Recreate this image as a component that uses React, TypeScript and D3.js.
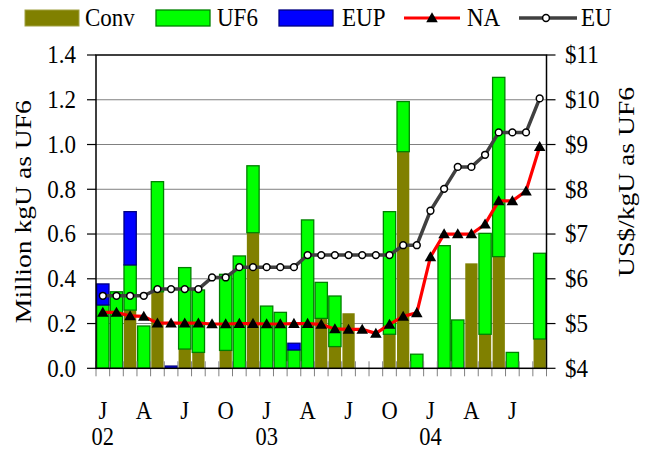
import React from "react";
import * as d3 from "d3";

// Months: Jan 2002 .. Sep 2004
const months = [
  "2002-01","2002-02","2002-03","2002-04","2002-05","2002-06","2002-07","2002-08","2002-09","2002-10","2002-11","2002-12",
  "2003-01","2003-02","2003-03","2003-04","2003-05","2003-06","2003-07","2003-08","2003-09","2003-10","2003-11","2003-12",
  "2004-01","2004-02","2004-03","2004-04","2004-05","2004-06","2004-07","2004-08","2004-09",
];

// Million kgU as UF6 (stacked)
const conv = [0,0,0.26,0,0.342,0,0.086,0.071,0,0.08,0,0.606,0,0,0,0,0.223,0.097,0.246,0,0,0.152,0.968,0,0,0,0,0.469,0.152,0.499,0,0,0.131];
const uf6 = [0.283,0.342,0.202,0.189,0.492,0,0.364,0.279,0,0.34,0.502,0.299,0.278,0.25,0.082,0.663,0.161,0.226,0,0,0,0.548,0.224,0.063,0,0.548,0.216,0,0.451,0.801,0.071,0,0.383];
const eup = [0.094,0,0.238,0,0,0.01,0,0,0,0,0,0,0,0,0.03,0,0,0,0,0,0,0,0,0,0,0,0,0,0,0,0,0,0];

// US$/kgU as UF6
const naPrice = [5.25,5.25,5.17,5.16,5.01,5.01,5.01,5.01,4.99,4.99,5.0,5.0,4.99,4.99,5.0,5.0,4.98,4.88,4.87,4.87,4.78,4.98,5.16,5.24,6.49,7.0,7.0,7.0,7.22,7.74,7.74,7.96,8.95];
const euPrice = [5.62,5.62,5.62,5.62,5.77,5.77,5.77,5.77,6.03,6.03,6.26,6.26,6.26,6.26,6.26,6.53,6.53,6.53,6.53,6.53,6.53,6.53,6.75,6.75,7.52,8.01,8.5,8.5,8.77,9.27,9.27,9.27,10.03];

const monthTickMonths = ["2002-01","2002-04","2002-07","2002-10","2003-01","2003-04","2003-07","2003-10","2004-01","2004-04","2004-07"];
const monthTickLabels = ["J","A","J","O","J","A","J","O","J","A","J"];
const yearTickMonths = ["2002-01","2003-01","2004-01"];
const yearTickLabels = ["02","03","04"];

const leftTicks = [0,0.2,0.4,0.6,0.8,1.0,1.2,1.4];
const rightTicks = [4,5,6,7,8,9,10,11];

const seriesKeys = ["conv","uf6","eup"];
const seriesColors: Record<string,string> = { conv: "#808000", uf6: "#00FF00", eup: "#0000FF" };
const seriesStroke: Record<string,string> = { conv: "#808000", uf6: "#008000", eup: "#000080" };

const W = 648, H = 451;
const M = { left: 96, right: 546.5, top: 55, bottom: 368.3 };
const FONT = "Liberation Serif, serif";

function T({ x, y, sy = 1.1, size = 23, anchor = "start", children }: { x: number; y: number; sy?: number; size?: number; anchor?: string; children: React.ReactNode }) {
  return (
    <text transform={`translate(${x},${y}) scale(1,${sy})`} textAnchor={anchor as any} fontFamily={FONT} fontSize={size} fill="#000">
      {children}
    </text>
  );
}

export default function App() {
  const x = d3.scaleBand<string>().domain(months).range([M.left, M.right]).paddingInner(0.1).paddingOuter(0.05);
  const step = (M.right - M.left) / months.length;
  const yL = d3.scaleLinear().domain([0, 1.4]).range([M.bottom, M.top]);
  const yR = d3.scaleLinear().domain([4, 11]).range([M.bottom, M.top]);

  const table = months.map((m, i) => ({ month: m, conv: conv[i], uf6: uf6[i], eup: eup[i] }));
  const stacked = d3.stack<any>().keys(seriesKeys)(table);

  const cx = (m: string) => (x(m) as number) + x.bandwidth() / 2;
  const naLine = d3.line<number>().x((_, i) => cx(months[i])).y((d) => yR(d));
  const euLine = d3.line<number>().x((_, i) => cx(months[i])).y((d) => yR(d));
  const tri = d3.symbol().type(d3.symbolTriangle).size(58)();
  const boundaries = d3.range(months.length + 1).map((i) => M.left + i * step);

  return (
    <svg width={W} height={H} style={{ display: "block", position: "absolute", left: 0, top: 0, background: "#fff" }}>
      <rect x={0} y={0} width={W} height={H} fill="#fff" />
      {/* gridlines */}
      {leftTicks.slice(1, -1).map((t) => (
        <line key={"g" + t} x1={M.left} x2={M.right} y1={yL(t)} y2={yL(t)} stroke="#808080" strokeWidth={1} />
      ))}
      {/* bars */}
      {stacked.map((s) => (
        <g key={s.key}>
          {s.map((d, i) => {
            const h = yL(d[0]) - yL(d[1]);
            if (h <= 0.01) return null;
            return (
              <rect
                key={i}
                x={x(months[i])}
                y={yL(d[1])}
                width={x.bandwidth()}
                height={h}
                fill={seriesColors[s.key]}
                stroke={seriesStroke[s.key]}
                strokeWidth={s.key === "conv" ? 0 : 1.3}
              />
            );
          })}
        </g>
      ))}
      {/* bottom ticks */}
      {boundaries.map((b, i) => (
        <line key={"bt" + i} x1={b} x2={b} y1={M.bottom - 7} y2={M.bottom + 8} stroke="#808080" strokeWidth={1} />
      ))}
      {/* frame */}
      <rect x={M.left} y={M.top} width={M.right - M.left} height={M.bottom - M.top} fill="none" stroke="#000" strokeWidth={1.5} />
      {/* left axis ticks */}
      {leftTicks.map((t) => (
        <g key={"lt" + t}>
          <line x1={M.left - 9} x2={M.left} y1={yL(t)} y2={yL(t)} stroke="#000" strokeWidth={1.2} />
          <T x={76} y={yL(t) + 8.3} anchor="end" sy={1.08}>{t.toFixed(1)}</T>
        </g>
      ))}
      {/* right axis ticks */}
      {rightTicks.map((t) => (
        <g key={"rt" + t}>
          <line x1={M.right} x2={M.right + 9} y1={yR(t)} y2={yR(t)} stroke="#000" strokeWidth={1.2} />
          <T x={565} y={yR(t) + 8.3} sy={1.08}>{"$" + t}</T>
        </g>
      ))}
      {/* x labels */}
      {monthTickMonths.map((m, i) => (
        <T key={"mx" + i} x={cx(m)} y={418.5} anchor="middle" size={22.5} sy={1.12}>{monthTickLabels[i]}</T>
      ))}
      {yearTickMonths.map((m, i) => (
        <T key={"yx" + i} x={cx(m)} y={445} anchor="middle" size={22.5} sy={1.12}>{yearTickLabels[i]}</T>
      ))}
      {/* axis titles */}
      <text transform={`translate(31,${(M.top + M.bottom) / 2}) rotate(-90) scale(1.2,1)`} textAnchor="middle" fontFamily={FONT} fontSize={23}>Million kgU as UF6</text>
      <text transform={`translate(634,182) rotate(-90) scale(1.2,1)`} textAnchor="middle" fontFamily={FONT} fontSize={23}>US$/kgU as UF6</text>
      {/* lines */}
      <path d={euLine(euPrice) || ""} fill="none" stroke="#404040" strokeWidth={3.5} strokeLinejoin="round" />
      <path d={naLine(naPrice) || ""} fill="none" stroke="#FF0000" strokeWidth={3.2} strokeLinejoin="round" />
      {euPrice.map((v, i) => (
        <circle key={"ec" + i} cx={cx(months[i])} cy={yR(v)} r={3.4} fill="#fff" stroke="#000" strokeWidth={1.5} />
      ))}
      {naPrice.map((v, i) => (
        <path key={"nt" + i} d={tri || ""} transform={`translate(${cx(months[i])},${yR(v) + 1})`} fill="#000" />
      ))}
      {/* legend */}
      <g>
        <rect x={25} y={10} width={54} height={16} fill={seriesColors.conv} stroke="#a0a040" strokeWidth={1} />
        <T x={85} y={26}>Conv</T>
        <rect x={156} y={10} width={54} height={16} fill={seriesColors.uf6} stroke={seriesStroke.uf6} strokeWidth={1.3} />
        <T x={217} y={26}>UF6</T>
        <rect x={279} y={10} width={54} height={16} fill={seriesColors.eup} stroke={seriesStroke.eup} strokeWidth={1.3} />
        <T x={342} y={26}>EUP</T>
        <line x1={404} x2={460} y1={18} y2={18} stroke="#FF0000" strokeWidth={3.2} />
        <path d={tri || ""} transform="translate(432,19)" fill="#000" />
        <T x={467} y={26}>NA</T>
        <line x1={519} x2={577} y1={18} y2={18} stroke="#404040" strokeWidth={3.5} />
        <circle cx={546} cy={18} r={3.4} fill="#fff" stroke="#000" strokeWidth={1.5} />
        <T x={581} y={26}>EU</T>
      </g>
    </svg>
  );
}
